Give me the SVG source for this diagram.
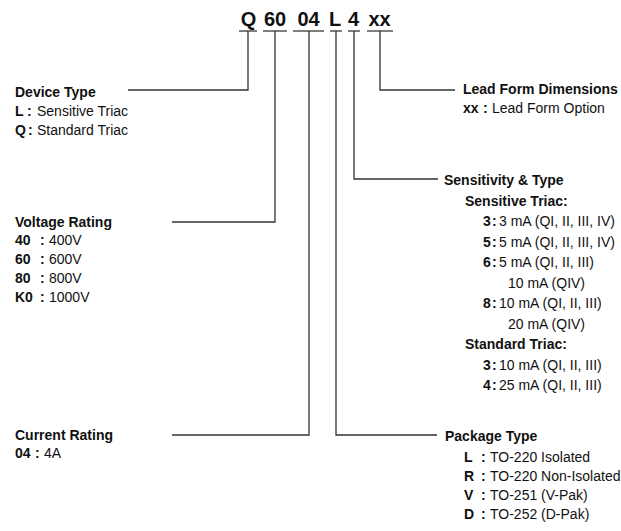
<svg xmlns="http://www.w3.org/2000/svg" width="621" height="531" viewBox="0 0 621 531">
<style>
text{font-family:"Liberation Sans",Arial,sans-serif;font-size:14px;fill:#111}
.b{font-weight:bold}
.code{font-weight:bold;font-size:20px;text-anchor:middle}
.ln{fill:none;stroke:#333;stroke-width:1.3}
.ul{fill:none;stroke:#555;stroke-width:1.3}
</style>
<rect width="621" height="531" fill="#fff"/>
<g id="code">
<text class="code" x="248.5" y="26">Q</text>
<text class="code" x="275" y="26">60</text>
<text class="code" x="308.5" y="26">04</text>
<text class="code" x="335" y="26">L</text>
<text class="code" x="353.5" y="26">4</text>
<text class="code" x="379.5" y="26">xx</text>
<path class="ul" d="M239 31H257M263 31H287M293 31H324M330 31H342M348 31H360M367 31H393"/>
</g>
<g id="connectors">
<path class="ln" d="M248 31V90H128"/>
<path class="ln" d="M275 31V222H172"/>
<path class="ln" d="M309 31V435H172"/>
<path class="ln" d="M336 31V435H437"/>
<path class="ln" d="M354 31V179H438"/>
<path class="ln" d="M380 31V90H455"/>
</g>
<g id="device-type">
<text class="b" x="15" y="97">Device Type</text>
<text class="b" x="15" y="116">L</text><text class="b" x="27" y="116">:</text><text x="37" y="116">Sensitive Triac</text>
<text class="b" x="15" y="135">Q</text><text class="b" x="28" y="135">:</text><text x="37" y="135">Standard Triac</text>
</g>
<g id="voltage-rating">
<text class="b" x="15" y="227">Voltage Rating</text>
<text class="b" x="15" y="245">40</text><text class="b" x="40" y="245">:</text><text x="49" y="245">400V</text>
<text class="b" x="15" y="264">60</text><text class="b" x="40" y="264">:</text><text x="49" y="264">600V</text>
<text class="b" x="15" y="283">80</text><text class="b" x="40" y="283">:</text><text x="49" y="283">800V</text>
<text class="b" x="15" y="302">K0</text><text class="b" x="40" y="302">:</text><text x="49" y="302">1000V</text>
</g>
<g id="current-rating">
<text class="b" x="15" y="440">Current Rating</text>
<text class="b" x="15" y="458">04</text><text class="b" x="35" y="458">:</text><text x="44" y="458">4A</text>
</g>
<g id="lead-form">
<text class="b" x="463" y="94">Lead Form Dimensions</text>
<text class="b" x="463" y="113">xx</text><text class="b" x="483" y="113">:</text><text x="492" y="113">Lead Form Option</text>
</g>
<g id="sensitivity">
<text class="b" x="444" y="185">Sensitivity &amp; Type</text>
<text class="b" x="465" y="206">Sensitive Triac:</text>
<text class="b" x="483" y="226">3</text><text class="b" x="492" y="226">:</text><text x="499" y="226">3 mA (QI, II, III, IV)</text>
<text class="b" x="483" y="246.5">5</text><text class="b" x="492" y="246.5">:</text><text x="499" y="246.5">5 mA (QI, II, III, IV)</text>
<text class="b" x="483" y="267">6</text><text class="b" x="492" y="267">:</text><text x="499" y="267">5 mA (QI, II, III)</text>
<text x="508" y="287.5">10 mA (QIV)</text>
<text class="b" x="483" y="308">8</text><text class="b" x="492" y="308">:</text><text x="499" y="308">10 mA (QI, II, III)</text>
<text x="508" y="328.5">20 mA (QIV)</text>
<text class="b" x="465" y="349">Standard Triac:</text>
<text class="b" x="483" y="370">3</text><text class="b" x="492" y="370">:</text><text x="499" y="370">10 mA (QI, II, III)</text>
<text class="b" x="483" y="390">4</text><text class="b" x="492" y="390">:</text><text x="499" y="390">25 mA (QI, II, III)</text>
</g>
<g id="package-type">
<text class="b" x="445" y="441">Package Type</text>
<text class="b" x="464" y="462">L</text><text class="b" x="481" y="462">:</text><text x="490" y="462">TO-220 Isolated</text>
<text class="b" x="464" y="481">R</text><text class="b" x="481" y="481">:</text><text x="490" y="481">TO-220 Non-Isolated</text>
<text class="b" x="464" y="500">V</text><text class="b" x="481" y="500">:</text><text x="490" y="500">TO-251 (V-Pak)</text>
<text class="b" x="464" y="519">D</text><text class="b" x="481" y="519">:</text><text x="490" y="519">TO-252 (D-Pak)</text>
</g>
</svg>
